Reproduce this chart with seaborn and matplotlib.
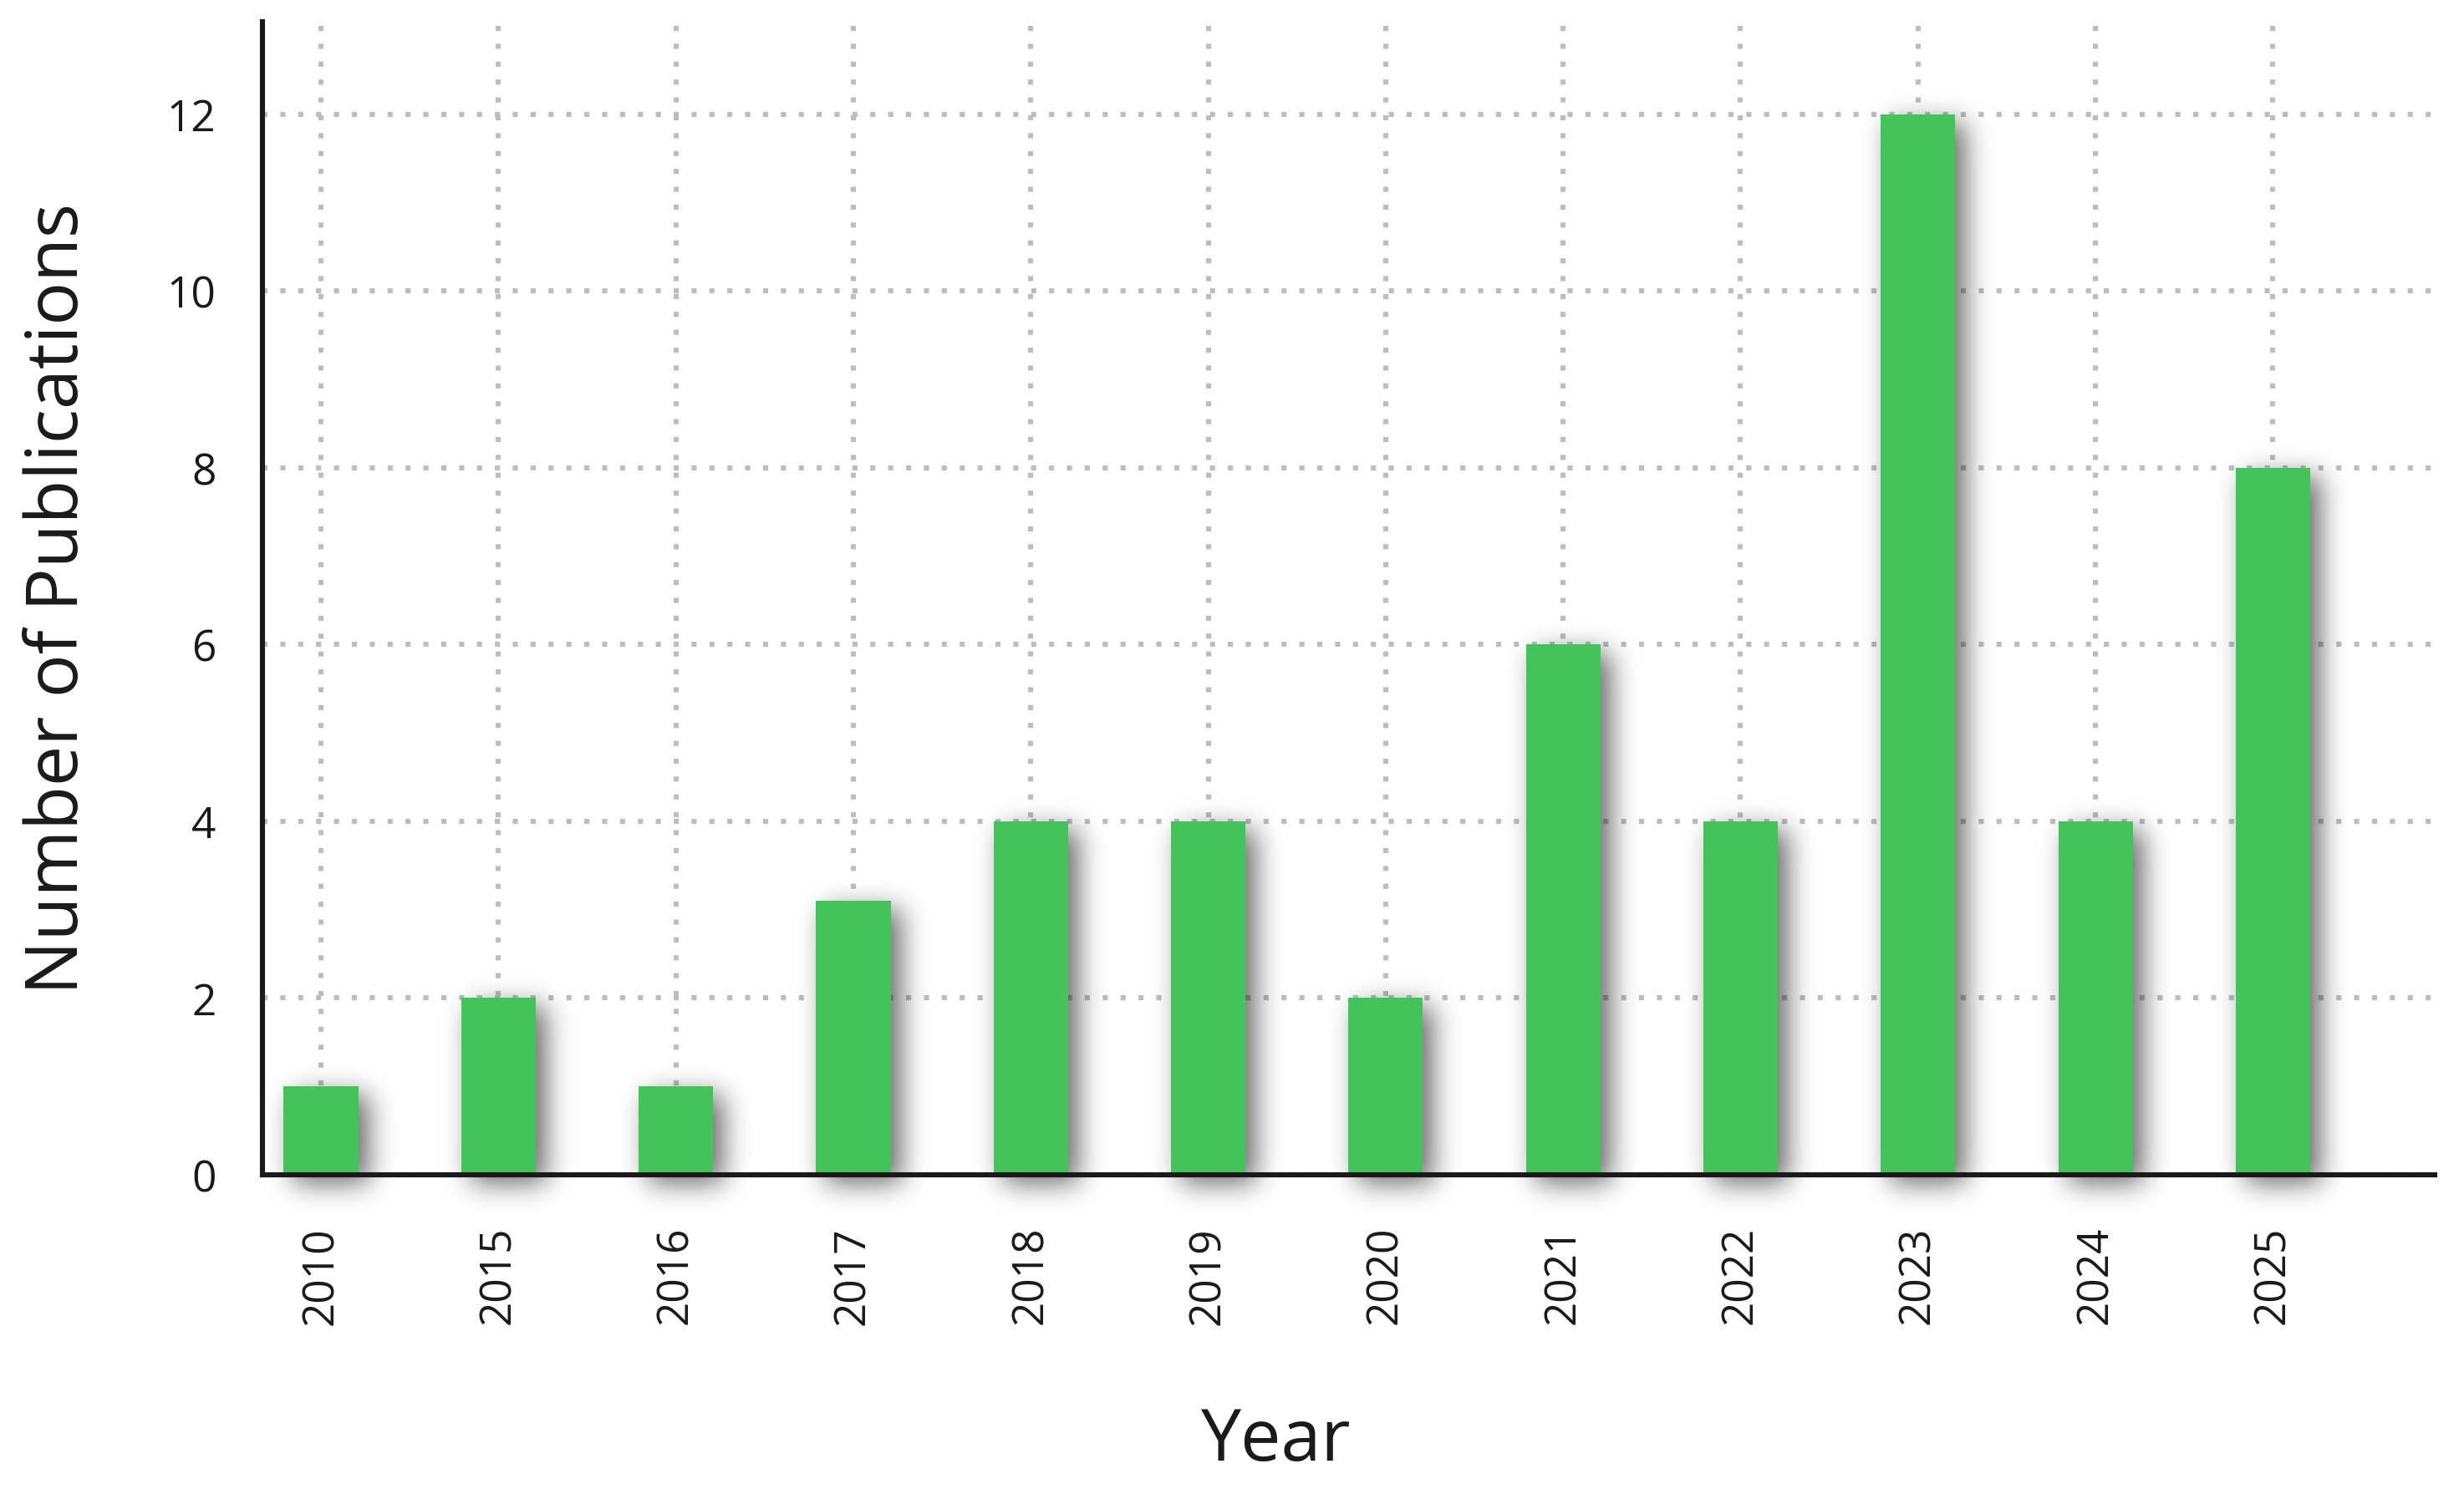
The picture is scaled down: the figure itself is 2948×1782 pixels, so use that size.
import matplotlib
matplotlib.use("Agg")
import matplotlib.pyplot as plt
from matplotlib.patches import Rectangle
import numpy as np
import seaborn as sns

# publications per year
years = ["2010", "2015", "2016", "2017", "2018", "2019",
         "2020", "2021", "2022", "2023", "2024", "2025"]
counts = [1, 2, 1, 3.1, 4, 4, 2, 6, 4, 12, 4, 8]
y_ticks = [0, 2, 4, 6, 8, 10, 12]

bar_color = "#43c45a"
grid_color = "#bdbdbd"


def soft_shadow(im, dpi, sigma=16, dx=12, dy=10, strength=0.6):
    """agg filter: blurred, offset copy of the patch alpha in black."""
    pad = 70
    a = np.pad(im[:, :, 3], pad)
    r = np.arange(-3 * sigma, 3 * sigma + 1)
    k = np.exp(-r ** 2 / (2.0 * sigma ** 2))
    k /= k.sum()
    a = np.apply_along_axis(np.convolve, 0, a, k, mode="same")
    a = np.apply_along_axis(np.convolve, 1, a, k, mode="same")
    a = np.roll(np.roll(a, dx, axis=1), dy, axis=0)
    out = np.zeros(a.shape + (4,))
    out[..., 3] = np.clip(a * strength, 0, 1)
    return out, -pad, -pad


sns.set_style("white")
plt.rcParams["font.family"] = ["Open Sans", "DejaVu Sans"]

fig = plt.figure(figsize=(14.74, 8.915), dpi=200)
ax = fig.add_axes([0.1065, 0.211, 0.8815, 0.774])

sns.barplot(x=years, y=counts, color=bar_color, width=0.42,
            saturation=1, ax=ax, zorder=3)

# drop shadow behind each bar
for bar in list(ax.patches):
    bar.set_linewidth(0)
    bar.set_clip_on(False)
    sh = Rectangle((bar.get_x(), bar.get_y()), bar.get_width(), bar.get_height(),
                   facecolor="k", linewidth=0, zorder=2.5, clip_on=False)
    sh.set_agg_filter(soft_shadow)
    ax.add_patch(sh)

ax.set_xlim(-0.33, 11.91)
ax.set_ylim(0, 13.05)
ax.set_yticks(y_ticks)
ax.set_yticklabels([str(t) for t in y_ticks])

ax.set_axisbelow(True)
ax.grid(True, axis="both", color=grid_color, linestyle=(0, (1, 2.5)),
        linewidth=2.2)

for side in ("top", "right"):
    ax.spines[side].set_visible(False)
for side in ("left", "bottom"):
    ax.spines[side].set_color("#1a1a1a")
    ax.spines[side].set_linewidth(2.2)
    ax.spines[side].set_zorder(5)

ax.tick_params(axis="y", length=0, pad=20, labelsize=18.5, labelcolor="#1a1a1a")
ax.tick_params(axis="x", length=0, pad=22, labelsize=18.5, labelcolor="#1a1a1a",
               labelrotation=90)

ax.set_ylabel("Number of Publications", fontsize=31, color="#1a1a1a")
ax.yaxis.set_label_coords(-0.077, 0.5)
ax.set_xlabel("Year", fontsize=31, color="#1a1a1a")
ax.xaxis.set_label_coords(0.4665, -0.2)

fig.savefig("out.png", dpi=200, facecolor="white")
